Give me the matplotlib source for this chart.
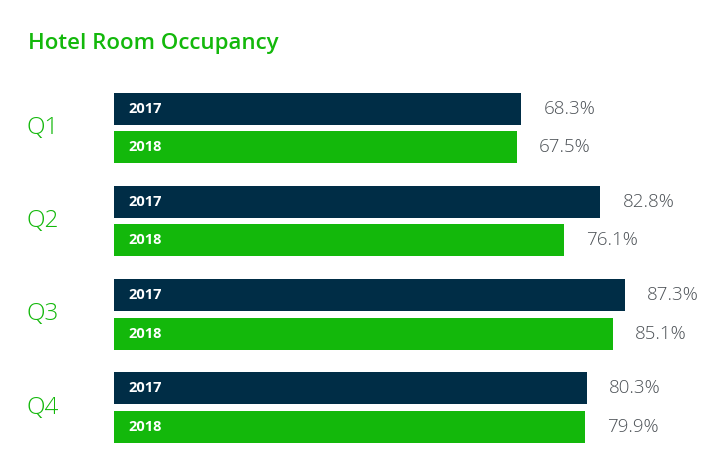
import matplotlib
matplotlib.use("Agg")
import matplotlib.pyplot as plt
import numpy as np

quarters = ["Q1", "Q2", "Q3", "Q4"]
years = ["2017", "2018"]
occ_2017 = [68.3, 82.8, 87.3, 80.3]
occ_2018 = [67.5, 76.1, 85.1, 79.9]
labels_2017 = ["68.3%", "82.8%", "87.3%", "80.3%"]
labels_2018 = ["67.5%", "76.1%", "85.1%", "79.9%"]

NAVY = "#002d46"
GREEN = "#13b80b"
GRAY = "#4d5257"

fig = plt.figure(figsize=(7.28, 4.70), dpi=100)
ax = fig.add_axes([0, 0, 1, 1])
ax.set_xlim(-27.16, 106.17)
ax.set_ylim(3.668, -1.369)
ax.axis("off")

BASE = -6.19
off = 0.206
h = 0.343
ypos = np.arange(len(quarters))

for vals, labs, col, yr, d in [(occ_2017, labels_2017, NAVY, years[0], -off),
                               (occ_2018, labels_2018, GREEN, years[1], off)]:
    v = np.array(vals)
    ax.barh(ypos + d, v - BASE, left=BASE, height=h, color=col, edgecolor="none")
    for yi, val, lab in zip(ypos + d, v, labs):
        ax.annotate(yr, xy=(BASE, yi), xytext=(9.7, 0), textcoords="offset points",
                    va="center", ha="left", color="white", fontsize=10.5,
                    fontweight="bold", family="Open Sans")
        ax.annotate(lab, xy=(val, yi), xytext=(16, 0), textcoords="offset points",
                    va="center", ha="left", color=GRAY, fontsize=13.5,
                    fontweight="light", family="Open Sans")

for yi, q in zip(ypos, quarters):
    ax.annotate(q, xy=(0, yi), xycoords=("axes fraction", "data"), xytext=(19.4, 0),
                textcoords="offset points", va="center", ha="left", color=GREEN,
                fontsize=17.5, fontweight="light", family="Open Sans")

fig.text(28 / 728, 1 - 49 / 470, "Hotel Room Occupancy", color=GREEN, fontsize=16,
         fontweight="semibold", family="Open Sans", ha="left", va="baseline")

fig.savefig("out.png", dpi=100)
